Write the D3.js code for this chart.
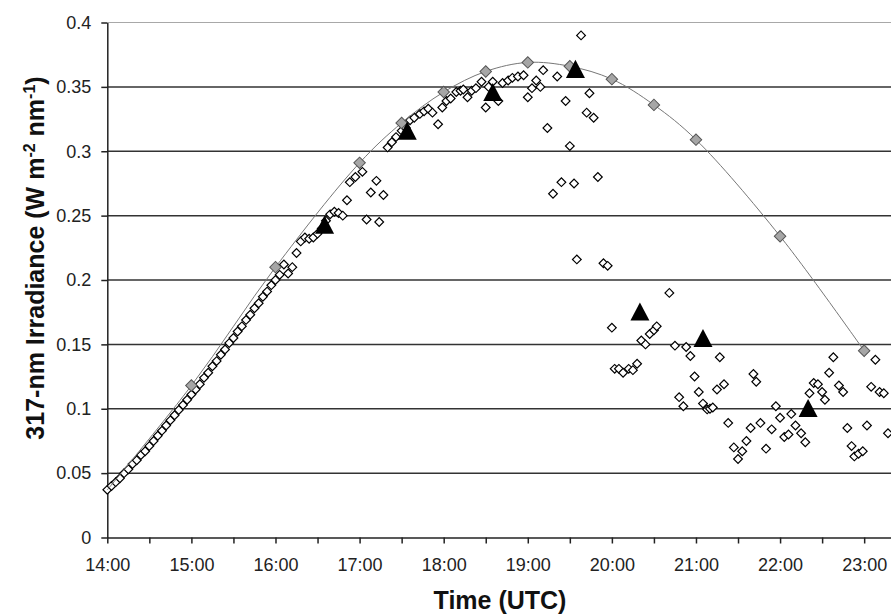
<!DOCTYPE html>
<html lang="en">
<head>
<meta charset="UTF-8">
<title>317-nm Irradiance</title>
<style>
  body { margin: 0; background: #fff; }
  svg { display: block; font-family: "Liberation Sans", Arial, sans-serif; }
  .axis text { font-size: 18px; fill: #222; }
  .axis line, .axis path { stroke: #222; stroke-width: 1.5px; }
  .axis-title { font-size: 25px; font-weight: bold; fill: #111; }
</style>
</head>
<body>
<div id="chart"></div>
<script src="https://d3js.org/d3.v7.min.js"></script>
<script>
// measured irradiance (open diamonds)
const obsTimes = [
  "14:00","14:03","14:06","14:09","14:12","14:15","14:18","14:21","14:24","14:27",
  "14:30","14:33","14:36","14:39","14:42","14:45","14:48","14:51","14:54","14:57",
  "15:00","15:03","15:06","15:09","15:12","15:15","15:18","15:21","15:24","15:27",
  "15:30","15:33","15:36","15:39","15:42","15:45","15:48","15:51","15:54","15:57",
  "16:00","16:03","16:06","16:09","16:12","16:15","16:18","16:21","16:24","16:27",
  "16:30","16:33","16:36","16:39","16:42","16:45","16:48","16:51","16:53","16:57",
  "17:02","17:05","17:08","17:12","17:14","17:17","17:20","17:23","17:26","17:30",
  "17:33","17:36","17:39","17:43","17:46","17:49","17:52","17:56","17:59","18:02",
  "18:05","18:09","18:12","18:14","18:17","18:20","18:23","18:27","18:30","18:32",
  "18:35","18:39","18:42","18:46","18:49","18:53","18:57","19:00","19:03","19:06",
  "19:09","19:11","19:14","19:18","19:21","19:24","19:27","19:30","19:33","19:35",
  "19:38","19:42","19:44","19:47","19:50","19:54","19:57","20:00","20:02","20:05",
  "20:08","20:12","20:15","20:18","20:21","20:24","20:27","20:30","20:32","20:41",
  "20:45","20:48","20:51","20:53","20:56","20:59","21:02","21:05","21:08","21:10",
  "21:12","21:15","21:17","21:20","21:23","21:27","21:30","21:33","21:36","21:39",
  "21:41","21:43","21:46","21:50","21:54","21:57","22:00","22:03","22:06","22:08",
  "22:11","22:15","22:18","22:21","22:24","22:27","22:30","22:32","22:35","22:38",
  "22:42","22:45","22:48","22:51","22:53","22:56","22:59","23:02","23:05","23:08",
  "23:11","23:14","23:17"
];
const obsValues = [
  0.037,0.040,0.043,0.046,0.050,0.053,0.057,0.060,0.064,0.067,
  0.071,0.075,0.079,0.083,0.087,0.091,0.095,0.099,0.103,0.107,
  0.111,0.115,0.119,0.124,0.128,0.133,0.137,0.142,0.146,0.151,
  0.155,0.160,0.164,0.169,0.173,0.178,0.182,0.187,0.191,0.196,
  0.200,0.204,0.212,0.205,0.210,0.221,0.230,0.233,0.232,0.233,
  0.236,0.240,0.246,0.251,0.253,0.252,0.250,0.262,0.276,0.280,
  0.284,0.247,0.268,0.277,0.245,0.266,0.303,0.307,0.311,0.316,
  0.318,0.324,0.326,0.329,0.331,0.333,0.330,0.321,0.334,0.339,
  0.341,0.346,0.347,0.348,0.342,0.347,0.349,0.354,0.334,0.350,
  0.354,0.339,0.353,0.355,0.357,0.358,0.359,0.342,0.349,0.355,
  0.350,0.363,0.318,0.267,0.358,0.276,0.339,0.304,0.275,0.216,
  0.390,0.330,0.345,0.326,0.280,0.213,0.211,0.163,0.131,0.131,
  0.128,0.131,0.130,0.135,0.153,0.150,0.158,0.161,0.164,0.190,
  0.149,0.109,0.102,0.148,0.141,0.125,0.113,0.104,0.0995,0.100,
  0.101,0.115,0.140,0.119,0.089,0.070,0.061,0.067,0.075,0.085,
  0.127,0.121,0.089,0.069,0.084,0.102,0.093,0.078,0.080,0.096,
  0.087,0.081,0.074,0.112,0.120,0.119,0.113,0.107,0.128,0.140,
  0.118,0.113,0.085,0.071,0.063,0.065,0.067,0.087,0.117,0.138,
  0.113,0.112,0.081
];

// clear-sky model (grey diamonds)
const modelTimes = ["15:00","16:00","17:00","17:30","18:00","18:30","19:00","19:30","20:00","20:30","21:00","22:00","23:00"];
const modelValues = [0.118,0.210,0.291,0.322,0.346,0.362,0.369,0.366,0.356,0.336,0.309,0.234,0.145];

// smooth model curve
const curveTimes = ["14:00", ...modelTimes];
const curveValues = [0.037, ...modelValues];

// black triangles
const triTimes = ["16:35","17:34","18:35","19:34","20:20","21:05","22:20"];
const triValues = [0.243,0.316,0.346,0.364,0.1755,0.155,0.1006];

const yTicks = [0, 0.05, 0.1, 0.15, 0.2, 0.25, 0.3, 0.35, 0.4];
const xStart = "14:00", xEnd = "23:20";

const parse = d3.timeParse("%H:%M");
const fmt = d3.timeFormat("%H:%M");

const W = 891, H = 614;
const margin = { top: 22.5, right: -1.2, bottom: 76.5, left: 107.3 };
const width = W - margin.left - margin.right;
const height = H - margin.top - margin.bottom;

const svg = d3.select("#chart").append("svg")
    .attr("width", W)
    .attr("height", H);

const g = svg.append("g")
    .attr("transform", `translate(${margin.left},${margin.top})`);

const x = d3.scaleTime()
    .domain([parse(xStart), parse(xEnd)])
    .range([0, width]);

const y = d3.scaleLinear()
    .domain([0, 0.4])
    .range([height, 0]);

// gridlines
g.append("g").selectAll("line")
    .data(yTicks.filter(d => d > 0))
    .enter().append("line")
    .attr("x1", 0)
    .attr("x2", W)
    .attr("y1", d => y(d))
    .attr("y2", d => y(d))
    .attr("stroke", d => d === 0.4 ? "#a8a8a8" : "#333")
    .attr("stroke-width", d => d === 0.4 ? 1 : 1.5);

// axes
g.append("g")
    .attr("class", "axis")
    .attr("transform", `translate(0,${height})`)
    .call(d3.axisBottom(x)
        .ticks(d3.timeMinute.every(30))
        .tickSize(6)
        .tickSizeOuter(0)
        .tickPadding(15)
        .tickFormat(d => d.getMinutes() === 0 ? fmt(d) : ""));

g.append("g")
    .attr("class", "axis")
    .call(d3.axisLeft(y)
        .tickValues(yTicks)
        .tickSize(6)
        .tickSizeOuter(0)
        .tickPadding(10)
        .tickFormat(d => String(d)));

// open diamonds
g.append("g").selectAll("path")
    .data(obsTimes.map((t, i) => ({ t: parse(t), v: obsValues[i] })))
    .enter().append("path")
    .attr("d", d3.symbol().type(d3.symbolSquare).size(38)())
    .attr("transform", d => `translate(${x(d.t)},${y(d.v)}) rotate(45)`)
    .attr("fill", "#fff")
    .attr("stroke", "#000")
    .attr("stroke-width", 1.2);

// model curve
const line = d3.line()
    .x(d => x(d.t))
    .y(d => y(d.v))
    .curve(d3.curveCatmullRom.alpha(0.5));

g.append("path")
    .datum(curveTimes.map((t, i) => ({ t: parse(t), v: curveValues[i] })))
    .attr("d", line)
    .attr("fill", "none")
    .attr("stroke", "#777")
    .attr("stroke-width", 1);

// grey diamonds
g.append("g").selectAll("path")
    .data(modelTimes.map((t, i) => ({ t: parse(t), v: modelValues[i] })))
    .enter().append("path")
    .attr("d", d3.symbol().type(d3.symbolSquare).size(66)())
    .attr("transform", d => `translate(${x(d.t)},${y(d.v)}) rotate(45)`)
    .attr("fill", "#a6a6a6")
    .attr("stroke", "#555")
    .attr("stroke-width", 1);

// triangles, centred on their box like excel markers
const triangle = {
    draw(ctx, size) {
        const w = Math.sqrt(size), h = w * 0.95;
        ctx.moveTo(0, -h / 2);
        ctx.lineTo(w / 2, h / 2);
        ctx.lineTo(-w / 2, h / 2);
        ctx.closePath();
    }
};
g.append("g").selectAll("path")
    .data(triTimes.map((t, i) => ({ t: parse(t), v: triValues[i] })))
    .enter().append("path")
    .attr("d", d3.symbol().type(triangle).size(19 * 19)())
    .attr("transform", d => `translate(${x(d.t)},${y(d.v)})`)
    .attr("fill", "#000");

// axis titles
svg.append("text")
    .attr("class", "axis-title")
    .attr("x", 500)
    .attr("y", 609)
    .attr("text-anchor", "middle")
    .text("Time (UTC)");

const yt = svg.append("text")
    .attr("class", "axis-title")
    .attr("transform", "translate(44,258) rotate(-90)")
    .attr("text-anchor", "middle");
yt.append("tspan").text("317-nm Irradiance (W m");
yt.append("tspan").attr("dy", -9).style("font-size", "16px").text("-2");
yt.append("tspan").attr("dy", 9).text(" nm");
yt.append("tspan").attr("dy", -9).style("font-size", "16px").text("-1");
yt.append("tspan").attr("dy", 9).text(")");
</script>
</body>
</html>
